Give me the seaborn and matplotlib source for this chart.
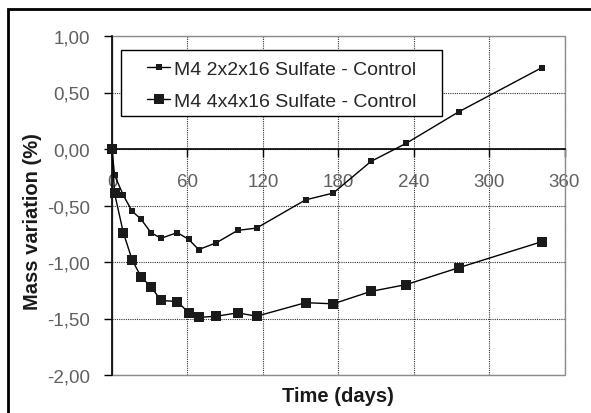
import numpy as np
import pandas as pd
import matplotlib
matplotlib.use('Agg')
import matplotlib.pyplot as plt
from matplotlib.patches import Rectangle
from matplotlib.ticker import FuncFormatter
import seaborn as sns

# values
days = [0, 2, 9, 16, 23, 31, 39, 52, 61, 69, 83, 100, 115, 154, 176, 206, 234, 276, 342]
mass_2x2 = [0.00, -0.23, -0.41, -0.55, -0.62, -0.74, -0.79, -0.74, -0.80, -0.89, -0.83,
            -0.72, -0.70, -0.45, -0.39, -0.11, 0.05, 0.33, 0.72]
mass_4x4 = [0.00, -0.39, -0.74, -0.98, -1.13, -1.22, -1.34, -1.35, -1.45, -1.49, -1.48,
            -1.45, -1.48, -1.36, -1.37, -1.26, -1.20, -1.05, -0.82]
series_names = ['M4 2x2x16 Sulfate - Control', 'M4 4x4x16 Sulfate - Control']
x_ticks = [0, 60, 120, 180, 240, 300, 360]
y_ticks = [-2.0, -1.5, -1.0, -0.5, 0.0, 0.5, 1.0]

W, H = 591, 414

sns.set_style('white')
plt.rcParams['font.family'] = ['Liberation Sans', 'DejaVu Sans']

fig = plt.figure(figsize=(W / 100, H / 100), dpi=100)
ax = fig.add_axes([112 / W, 1 - 376 / H, 452.5 / W, 339 / H])

df1 = pd.DataFrame({'days': days, 'mass': mass_2x2})
df2 = pd.DataFrame({'days': days, 'mass': mass_4x4})
sns.lineplot(data=df1, x='days', y='mass', ax=ax, color='black', lw=1.0, marker='s',
             markersize=4.6, markeredgewidth=0, markerfacecolor='#1a1a1a',
             sort=False, label=series_names[0], zorder=5)
sns.lineplot(data=df2, x='days', y='mass', ax=ax, color='black', lw=1.0, marker='s',
             markersize=7, markeredgewidth=0, markerfacecolor='#1a1a1a',
             sort=False, label=series_names[1], zorder=5)
for line in ax.lines:
    line.set_clip_on(False)

ax.set_xlim(0, 360)
ax.set_ylim(-2, 1)
ax.set_xticks(x_ticks)
ax.set_yticks(y_ticks)
ax.yaxis.set_major_formatter(FuncFormatter(lambda v, p: f'{v:.2f}'.replace('.', ',')))
ax.xaxis.set_major_formatter(FuncFormatter(lambda v, p: f'{int(v)}'))

# grid
ax.grid(True, linestyle=(0, (1, 1)), color='#333333', lw=0.8)
ax.set_axisbelow(True)

# Excel-like axes: x axis crosses at 0
ax.spines['bottom'].set_position(('data', 0))
ax.spines['bottom'].set_color('black')
ax.spines['bottom'].set_linewidth(1.2)
ax.spines['left'].set_color('black')
ax.spines['left'].set_linewidth(1.2)
ax.spines['top'].set_visible(False)
ax.spines['right'].set_visible(False)
ax.add_patch(Rectangle((0, 0), 1, 1, transform=ax.transAxes, fill=False,
                       edgecolor='#8c8c8c', lw=1.0, zorder=1, clip_on=False))

ax.tick_params(axis='both', direction='out', length=6, width=1, color='black',
               labelsize=13.5, labelcolor='#606060', bottom=True, left=True)
ax.tick_params(axis='x', pad=11)
ax.tick_params(axis='y', pad=10)

ax.set_xlabel('')
ax.set_ylabel('')
fig.text(338 / W, 1 - 397 / H, 'Time (days)', ha='center', va='center',
         fontsize=14.5, fontweight='bold', color='#1a1a1a')
fig.text(33 / W, 1 - 222 / H, 'Mass variation (%)', ha='center', va='center',
         rotation=90, fontsize=14.5, fontweight='bold', color='#1a1a1a')

# legend without its own frame, box drawn separately
leg = ax.legend(loc='upper left', bbox_to_anchor=(147 / W, 1 - 61 / H),
                bbox_transform=fig.transFigure, borderaxespad=0, fontsize=14,
                frameon=False, handlelength=1.2, handletextpad=0.2,
                borderpad=0, labelspacing=0.76)
leg.set_zorder(10)
ax.add_patch(Rectangle((121 / W, 1 - 117 / H), 321 / W, 66 / H,
                       transform=fig.transFigure, facecolor='white',
                       edgecolor='black', lw=1.0, zorder=8, clip_on=False))

# outer chart border (only top and left are inside the picture)
fig.patches.append(Rectangle((8 / W, -0.5), 3, 1.5 - 10 / H,
                             transform=fig.transFigure, fill=False,
                             edgecolor='black', lw=2, zorder=0))

fig.savefig('out.png', dpi=100)
